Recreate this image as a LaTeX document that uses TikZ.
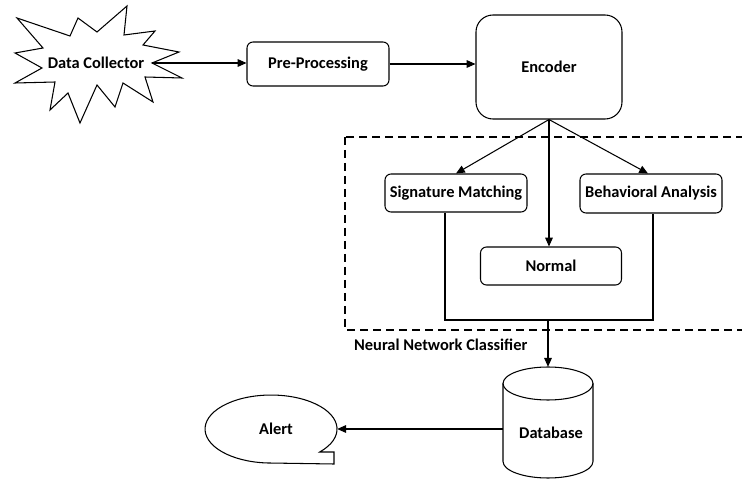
\documentclass[tikz,border=0pt]{standalone}
\usepackage{fontspec}
\setmainfont{Carlito}
\usetikzlibrary{arrows.meta,shapes.geometric}
\newlength\pxl
\setlength\pxl{0.03cm}
\tikzset{
  lbl/.style={font=\bfseries\fontsize{14}{16}\selectfont, text=black},
  box/.style={draw, line width=0.9pt, rounded corners=6\pxl, lbl, inner sep=0pt},
  conn/.style={line width=0.9pt},
  arr/.style={conn, -{Triangle[length=7.5pt, width=6.5pt]}},
}
\begin{document}
\begin{tikzpicture}[x=\pxl, y=-\pxl]
\useasboundingbox (0,0) rectangle (742,480);

% starburst around the data collector
\draw[line width=0.9pt, line join=miter]
  (17,18) -- (70,36) -- (78,18) -- (97,32) -- (127,6) -- (124,35) -- (155,31)
  -- (143,45) -- (179,52) -- (152,63) -- (182,78) -- (145,77) -- (153,102)
  -- (123,83) -- (115,107) -- (97,85) -- (80,123) -- (68,93) -- (50,110)
  -- (55,82) -- (15,83) -- (42,68) -- (15,53) -- (43,48) -- cycle;
\node[lbl] (collector) at (96,63) {Data Collector};
\coordinate (collector-tip) at (152,63);

% processing chain
\node[box, minimum width=142\pxl, minimum height=44\pxl] (pre) at (318,64) {Pre-Processing};
\node[box, rounded corners=17\pxl, minimum width=146\pxl, minimum height=104\pxl] (enc) at (549,67) {Encoder};

% classifier group
\draw[conn, dash pattern=on 8\pxl off 5\pxl] (345,137) rectangle (748,330);
\node[lbl, anchor=west] (nnc) at (350,345) {Neural Network Classifier};

\node[box, minimum width=142\pxl, minimum height=38\pxl] (sig) at (456,193) {Signature Matching};
\node[box, minimum width=142\pxl, minimum height=39\pxl] (beh) at (651,193.5) {Behavioral Analysis};
\node[box, minimum width=141\pxl, minimum height=38\pxl] (norm) at (551,266) {Normal};
\coordinate (join) at (548,320);

% database cylinder
\draw[line width=0.9pt] (503,383.5) -- (503,461.5)
  arc[start angle=180, end angle=360, x radius=45\pxl, y radius=16.5\pxl] -- (593,383.5);
\draw[line width=0.9pt] (548,383.5) ellipse [x radius=45\pxl, y radius=16.5\pxl];
\node[lbl, minimum width=90\pxl, minimum height=111\pxl, inner sep=0pt] (db) at (548,422.5) {};
\node[lbl] at (551,433) {Database};

% alert callout
\draw[line width=0.9pt] (319.7,452)
  arc[start angle=-42.5, end angle=270, x radius=66\pxl, y radius=34\pxl]
  -- (334,464) -- (334,452) -- cycle;
\node[lbl, ellipse, minimum width=132\pxl, minimum height=68\pxl, inner sep=0pt] (alert) at (271,429) {};
\node[lbl] at (276,429) {Alert};

% connectors
\draw[arr] (collector-tip) -- (pre.west |- collector-tip);
\draw[arr] (pre.east) -- (pre.east -| enc.west);
\draw[arr] (enc.south) -- (sig.north);
\draw[arr] (enc.south) -- ([xshift=-3\pxl]beh.north);
\draw[arr] (enc.south) -- (enc.south |- norm.north);
\draw[conn] ([xshift=-11\pxl]sig.south) |- (join) -| ([xshift=2\pxl]beh.south);
\draw[arr] (join) -- (join |- db.north);
\draw[arr] (db.west |- alert.east) -- (alert.east);
\end{tikzpicture}
\end{document}
